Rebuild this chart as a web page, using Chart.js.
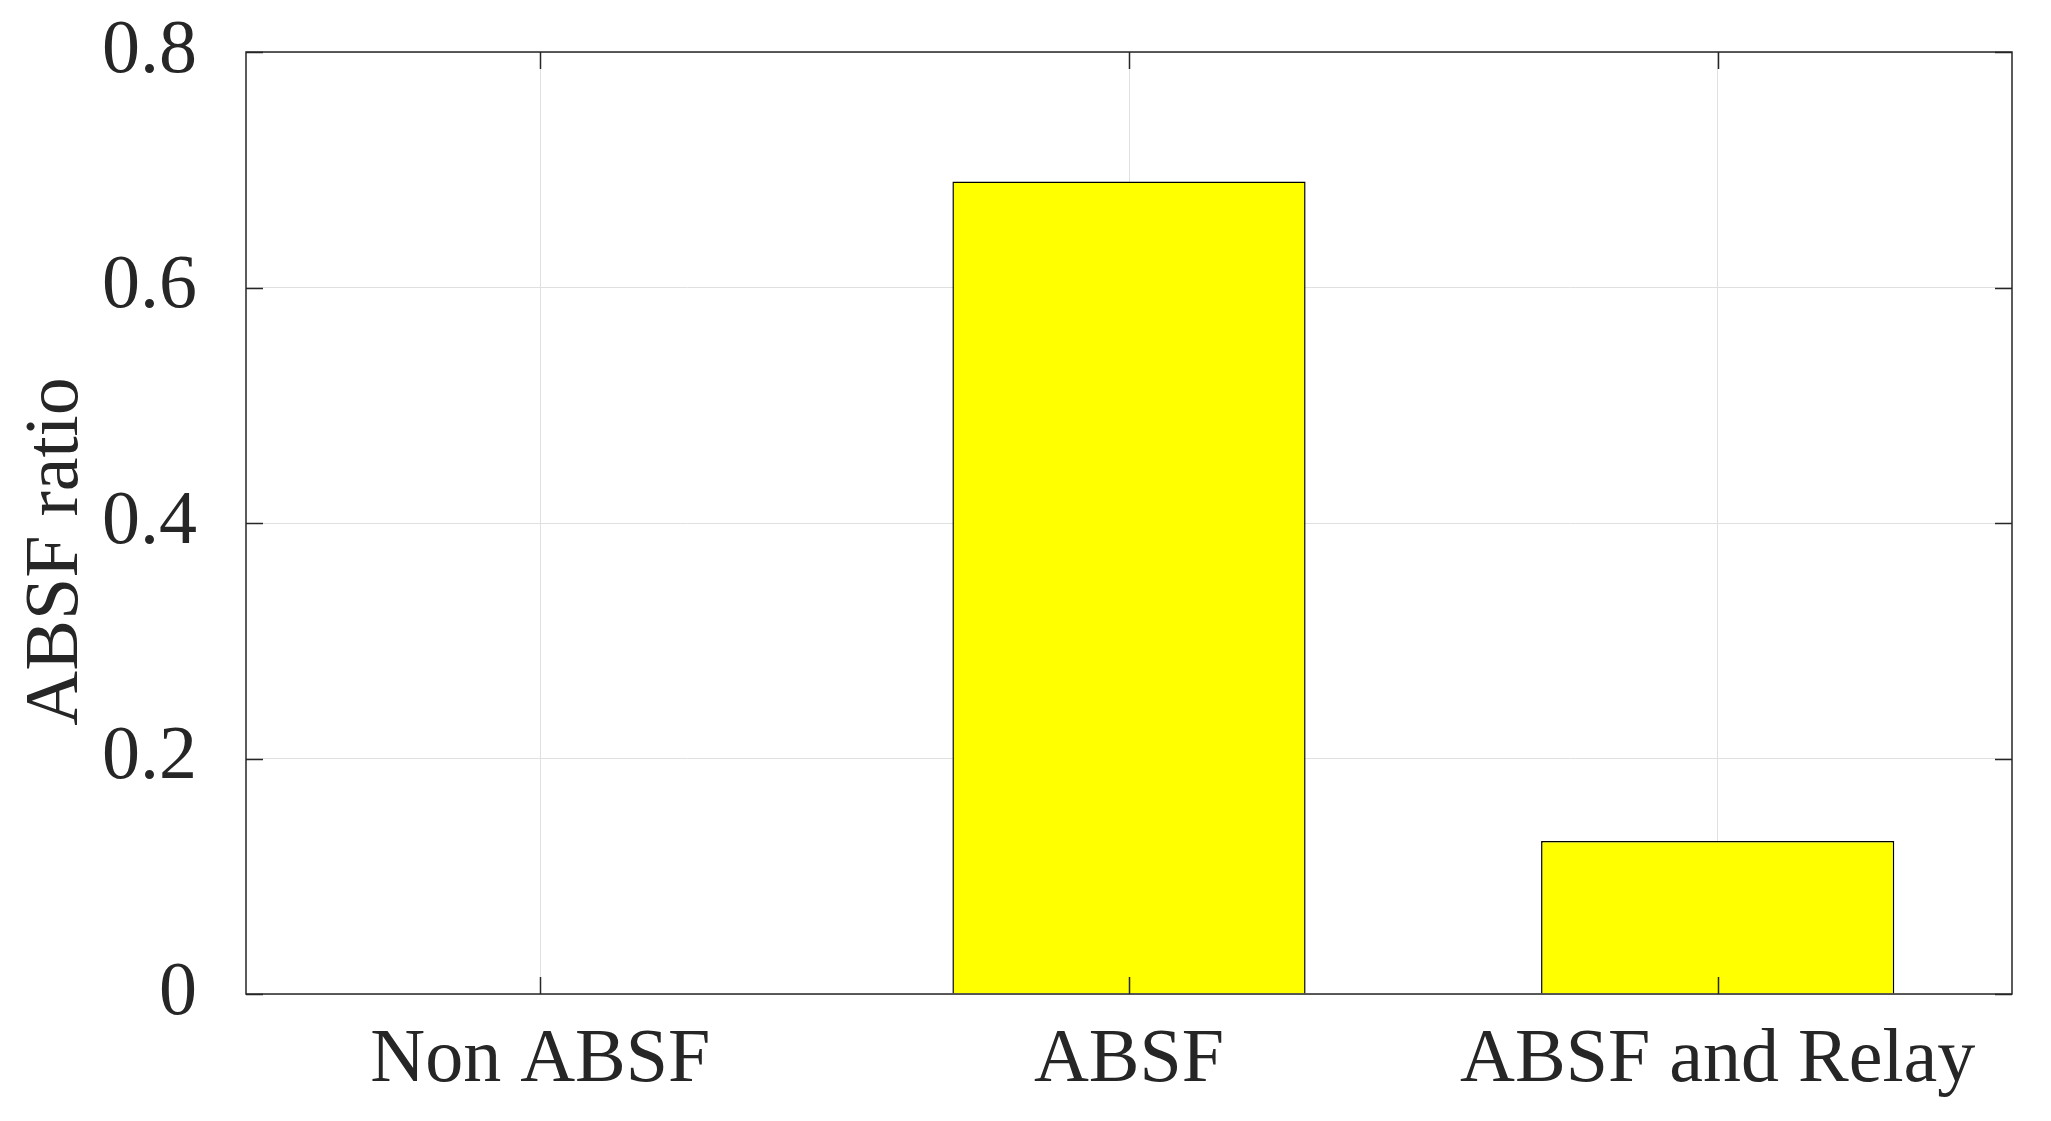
<!DOCTYPE html>
<html>
<head>
<meta charset="utf-8">
<script src="https://cdn.jsdelivr.net/npm/chart.js@4.4.0/dist/chart.umd.min.js"></script>
<style>
  html, body { margin: 0; padding: 0; background: #fff; }
  #wrap { width: 2051px; height: 1121px; position: relative; }
</style>
</head>
<body>
<div id="wrap"><canvas id="plots"></canvas></div>
<script>
// dados do grafico
var categories = ["Non ABSF", "ABSF", "ABSF and Relay"];
var ratio = [0, 0.69, 0.13];
var yTicks = [0, 0.2, 0.4, 0.6, 0.8];

var axisColor = "#262626";
var serif = "'Liberation Serif', 'Times New Roman', serif";

// moldura e ticks para dentro (estilo matlab)
var frameTicks = {
  id: "frameTicks",
  afterDatasetsDraw: function (chart) {
    var ctx = chart.ctx, a = chart.chartArea;
    var x = chart.scales.x, y = chart.scales.y;
    var len = 17;
    ctx.save();
    ctx.strokeStyle = axisColor;
    ctx.lineWidth = 1.5;
    ctx.beginPath();
    yTicks.forEach(function (v) {
      var py = Math.round(y.getPixelForValue(v)) + 0.5;
      ctx.moveTo(a.left, py); ctx.lineTo(a.left + len, py);
      ctx.moveTo(a.right, py); ctx.lineTo(a.right - len, py);
    });
    categories.forEach(function (c, i) {
      var px = Math.round(x.getPixelForValue(i)) + 0.5;
      ctx.moveTo(px, a.bottom); ctx.lineTo(px, a.bottom - len);
      ctx.moveTo(px, a.top); ctx.lineTo(px, a.top + len);
    });
    ctx.stroke();
    ctx.strokeRect(a.left, a.top, a.right - a.left, a.bottom - a.top);
    ctx.restore();
  }
};

new Chart(document.getElementById("plots"), {
  type: "bar",
  data: {
    labels: categories,
    datasets: [{
      data: ratio,
      backgroundColor: "#ffff00",
      borderColor: "#000000",
      borderWidth: 1.5,
      barPercentage: 0.6,
      categoryPercentage: 1
    }]
  },
  options: {
    responsive: true,
    maintainAspectRatio: false,
    animation: false,
    layout: { padding: { left: 0, top: 52, right: 39, bottom: 0 } },
    plugins: { legend: { display: false }, tooltip: { enabled: false } },
    scales: {
      x: {
        offset: true,
        grid: { offset: false, color: "#e0e0e0", lineWidth: 1, drawTicks: false },
        border: { display: false },
        ticks: { color: axisColor, font: { family: serif, size: 76 }, padding: 21, maxRotation: 0 },
        afterFit: function (s) { s.height = 127; }
      },
      y: {
        min: 0,
        max: 0.8,
        grid: { color: "#e0e0e0", lineWidth: 1, drawTicks: false },
        border: { display: false },
        ticks: {
          stepSize: 0.2,
          color: axisColor,
          font: { family: serif, size: 76 },
          padding: 49
        },
        title: {
          display: true,
          text: "ABSF ratio\u00a0\u00a0\u00a0",
          color: axisColor,
          font: { family: serif, size: 76, weight: "normal" },
          padding: { top: 11, bottom: 0 }
        },
        afterFit: function (s) {
          s.width = 246;
          s.paddingTop = 0;
          s.paddingBottom = 0;
        }
      }
    }
  },
  plugins: [frameTicks]
});
</script>
</body>
</html>
